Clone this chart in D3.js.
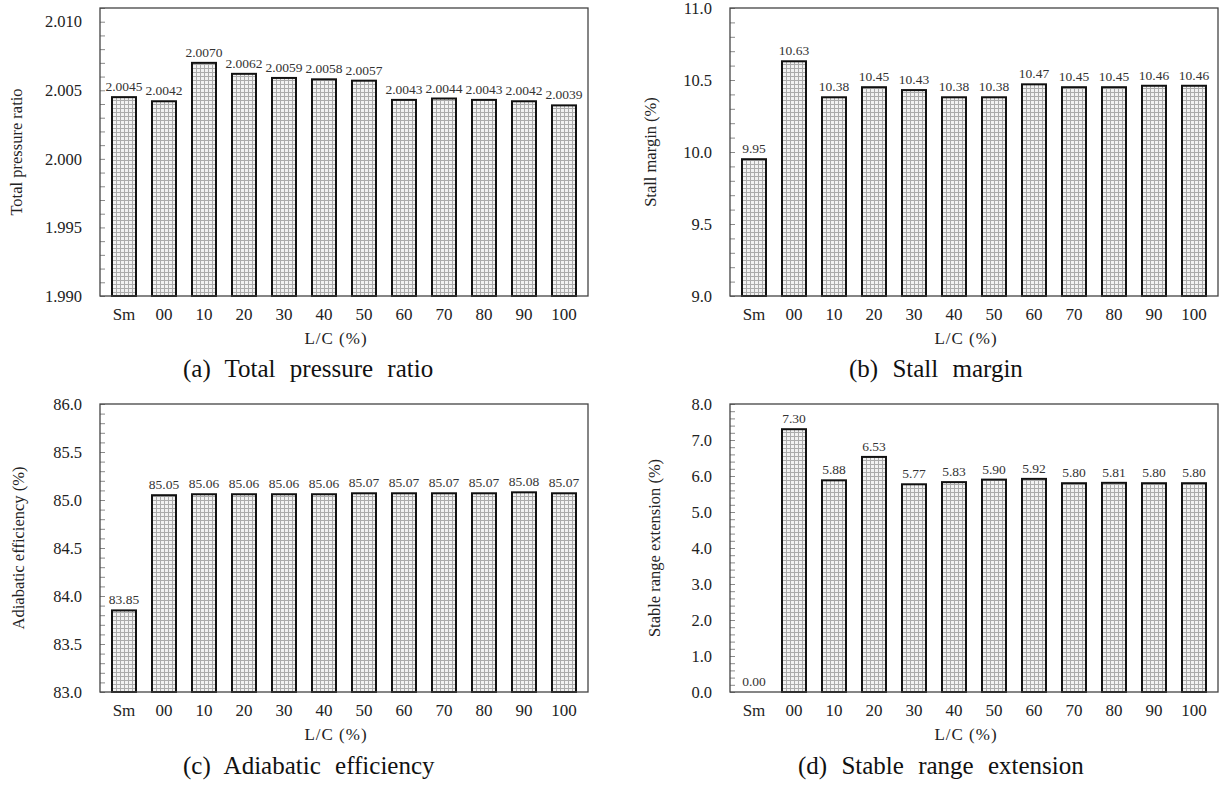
<!DOCTYPE html>
<html>
<head>
    <meta charset="UTF-8">
    <title>L/C comparison</title>
    <script src="https://cdn.jsdelivr.net/npm/d3@7"></script>
    <style>
        body { margin: 0; background: #fff; }
        svg text { font-family: "Liberation Serif", "DejaVu Serif", "Noto Serif", serif; }
        .caption { font-size: 25px; word-spacing: 8px; fill: #111; }
        .ytick text { font-size: 16.5px; fill: #222; }
        .xtick text { font-size: 17px; fill: #222; }
        .vlabel { font-size: 13.5px; fill: #333; }
        .atitle { font-size: 16.5px; fill: #222; }
        .xtitle { font-size: 17px; letter-spacing: 1px; fill: #222; }
    </style>
</head>
<body>
<svg id="chart" width="1224" height="786">
    <defs>
        <pattern id="grid" width="4" height="4" patternUnits="userSpaceOnUse">
            <rect width="4" height="4" fill="#f2f2f2"></rect>
            <path d="M0 0.5 H4 M0.5 0 V4" stroke="#ababab" stroke-width="1"></path>
        </pattern>
    </defs>
</svg>
<script>
    // categories (L/C %)
    var categories = ["Sm", "00", "10", "20", "30", "40", "50", "60", "70", "80", "90", "100"];

    // series values
    var pressureRatio = [2.0045, 2.0042, 2.0070, 2.0062, 2.0059, 2.0058, 2.0057, 2.0043, 2.0044, 2.0043, 2.0042, 2.0039];
    var stallMargin = [9.95, 10.63, 10.38, 10.45, 10.43, 10.38, 10.38, 10.47, 10.45, 10.45, 10.46, 10.46];
    var efficiency = [83.85, 85.05, 85.06, 85.06, 85.06, 85.06, 85.07, 85.07, 85.07, 85.07, 85.08, 85.07];
    var rangeExt = [0.00, 7.30, 5.88, 6.53, 5.77, 5.83, 5.90, 5.92, 5.80, 5.81, 5.80, 5.80];

    // major tick labels
    var pressureTicks = [1.990, 1.995, 2.000, 2.005, 2.010];
    var stallTicks = [9.0, 9.5, 10.0, 10.5, 11.0];
    var effTicks = [83.0, 83.5, 84.0, 84.5, 85.0, 85.5, 86.0];
    var rangeTicks = [0, 1, 2, 3, 4, 5, 6, 7, 8];

    var panels = [
        {x: 100, y: 8, values: pressureRatio, domain: [1.990, 2.011], ticks: pressureTicks, minor: 0.001,
            tickFmt: ".3f", valFmt: ".4f", title: "Total pressure ratio", titleX: 17,
            caption: "(a) Total pressure ratio", capX: 183, capY: 377},
        {x: 730, y: 8, values: stallMargin, domain: [9.0, 11.0], ticks: stallTicks, minor: 0.1,
            tickFmt: ".1f", valFmt: ".2f", title: "Stall margin (%)", titleX: 651,
            caption: "(b) Stall margin", capX: 849, capY: 377},
        {x: 100, y: 404, values: efficiency, domain: [83.0, 86.0], ticks: effTicks, minor: 0.1,
            tickFmt: ".1f", valFmt: ".2f", title: "Adiabatic efficiency (%)", titleX: 19,
            caption: "(c) Adiabatic efficiency", capX: 183, capY: 774},
        {x: 730, y: 404, values: rangeExt, domain: [0, 8], ticks: rangeTicks, minor: 0.2,
            tickFmt: ".1f", valFmt: ".2f", title: "Stable range extension (%)", titleX: 655,
            caption: "(d) Stable range extension", capX: 798, capY: 774}
    ];

    var W = 488, H = 288;
    var FONT = "Liberation Serif, DejaVu Serif, serif";
    var svg = d3.select("#chart");

    panels.forEach(function (p) {
        var g = svg.append("g").attr("transform", "translate(" + p.x + "," + p.y + ")");

        var x = d3.scaleBand().domain(categories).range([0, W]).paddingInner(0.4).paddingOuter(0.3);
        var y = d3.scaleLinear().domain(p.domain).range([H, 0]);

        // minor + major ticks pointing inward
        var n = Math.round((p.domain[1] - p.domain[0]) / p.minor);
        var minorVals = d3.range(n + 1).map(function (i) { return p.domain[0] + i * p.minor; });
        g.append("g")
            .call(d3.axisLeft(y).tickValues(minorVals).tickSize(-5).tickFormat(""))
            .call(function (a) {
                a.select(".domain").remove();
                a.selectAll("line").attr("stroke", "#8a8a8a");
            });

        g.append("g").attr("class", "ytick")
            .call(d3.axisLeft(y).tickValues(p.ticks).tickSize(0).tickPadding(18).tickFormat(d3.format(p.tickFmt)))
            .attr("font-family", FONT)
            .call(function (a) { a.select(".domain").remove(); });

        g.append("g").attr("class", "xtick")
            .attr("transform", "translate(0," + H + ")")
            .call(d3.axisBottom(x).tickSize(0).tickPadding(12))
            .attr("font-family", FONT)
            .call(function (a) { a.select(".domain").remove(); });

        // bars
        g.selectAll("rect.bar")
            .data(p.values)
            .enter().append("rect")
            .attr("class", "bar")
            .attr("x", function (d, i) { return x(categories[i]); })
            .attr("y", function (d) { return y(d); })
            .attr("width", x.bandwidth())
            .attr("height", function (d) { return H - y(d); })
            .attr("fill", "url(#grid)")
            .attr("stroke", function (d) { return d === 0 ? "none" : "#111"; })
            .attr("stroke-width", 2);

        g.selectAll("text.vlabel")
            .data(p.values)
            .enter().append("text")
            .attr("class", "vlabel")
            .attr("text-anchor", "middle")
            .attr("x", function (d, i) { return x(categories[i]) + x.bandwidth() / 2; })
            .attr("y", function (d) { return y(d) - 6; })
            .text(function (d) { return d3.format(p.valFmt)(d); });

        // frame
        g.append("rect")
            .attr("width", W).attr("height", H)
            .attr("fill", "none").attr("stroke", "#444").attr("stroke-width", 1.3);

        g.append("text").attr("class", "xtitle")
            .attr("text-anchor", "middle")
            .attr("x", W / 2 - 8).attr("y", H + 48)
            .text("L/C (%)");

        svg.append("text").attr("class", "atitle")
            .attr("text-anchor", "middle")
            .attr("transform", "translate(" + (p.titleX + 5) + "," + (p.y + H / 2) + ") rotate(-90)")
            .text(p.title);

        svg.append("text").attr("class", "caption")
            .attr("x", p.capX).attr("y", p.capY)
            .text(p.caption);
    });
</script>
</body>
</html>
